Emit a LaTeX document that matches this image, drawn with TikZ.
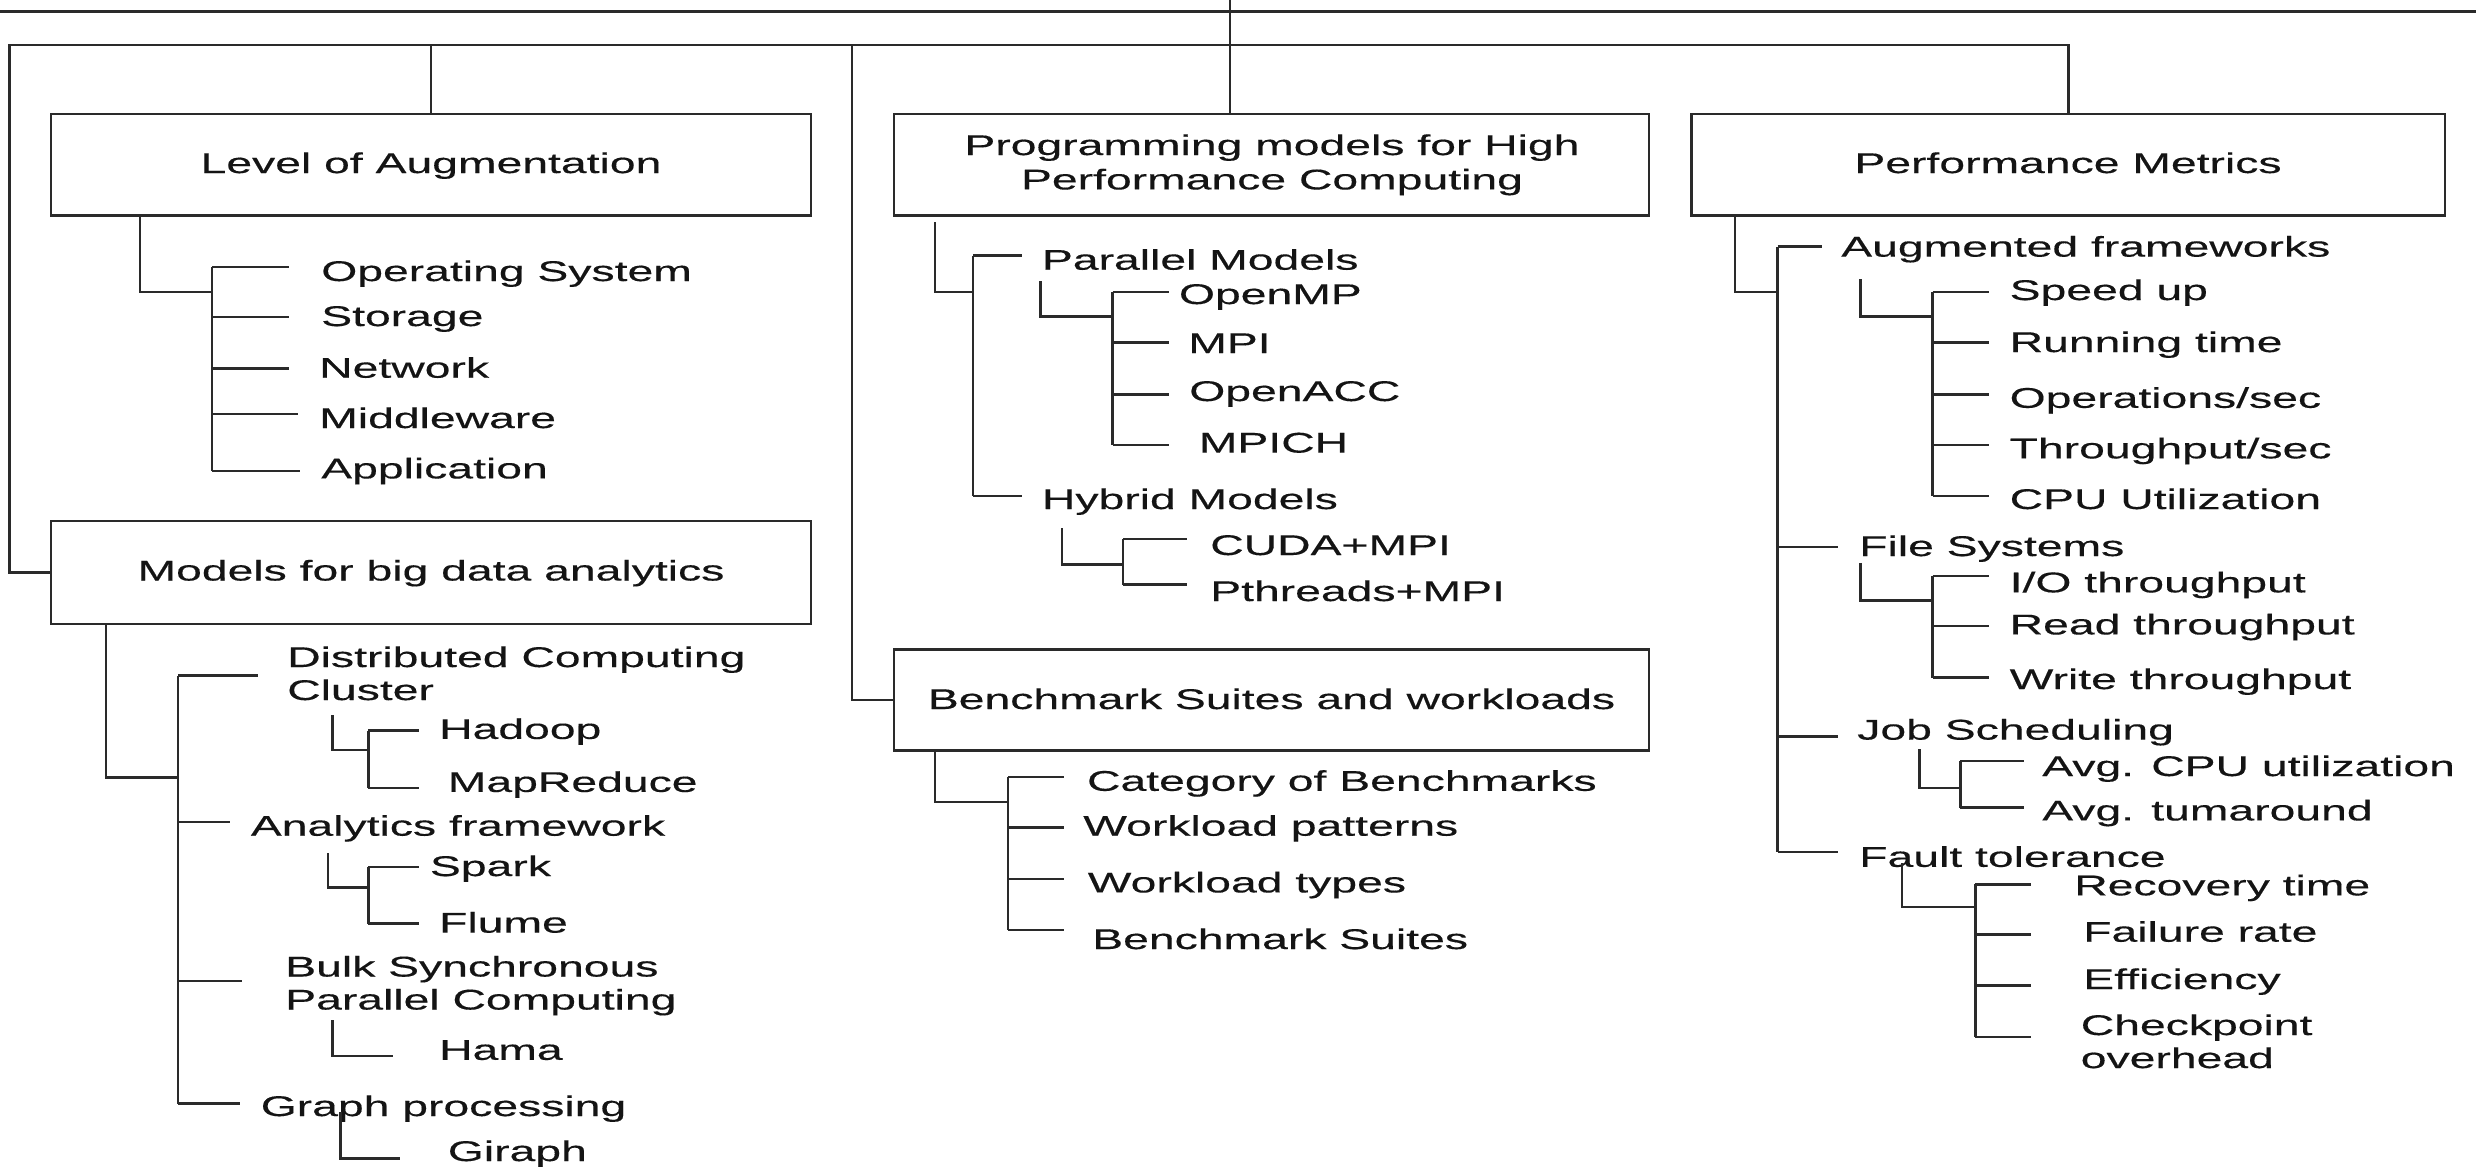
\documentclass[tikz,border=0pt]{standalone}
\usepackage{fontspec}
\setmainfont{Liberation Sans}[FakeStretch=1.625, FakeBold=0.35]
\definecolor{ink}{HTML}{141414}
\definecolor{wire}{HTML}{2A2A2A}
\begin{document}
\begin{tikzpicture}[
  x=0.5pt, y=-0.5pt,
  font=\fontsize{14.25}{16.5}\selectfont,
  color=wire, line width=1.25pt,
  box/.style={draw=wire, line width=1.25pt, inner sep=0pt, minimum width=#1},
  box/.default=380pt,
  ttl/.style={anchor=base, inner sep=0pt, text=ink},
  lbl/.style={anchor=base west, inner sep=0pt, text=ink},
  tick/.style={shorten >=#1},
]
\useasboundingbox (0,0) rectangle (2476,1173);

% ---------- category boxes ----------
\node[box=380pt,   minimum height=50.75pt] (loa)   at (431,164.75)   {};
\node[box=380pt,   minimum height=51.4pt]  (mbd)   at (431,572.4)    {};
\node[box=377.5pt, minimum height=50.75pt] (prog)  at (1271.5,164.75) {};
\node[box=377.5pt, minimum height=50.5pt]  (bench) at (1271.5,700)   {};
\node[box=376.75pt,minimum height=50.75pt] (perf)  at (2068.25,164.75) {};

\node[ttl] (loa-t)   at (431,173)    {Level of Augmentation};
\node[ttl] (mbd-t)   at (431,580.5)  {Models for big data analytics};
\node[ttl] (prog-t)  at (1272,155)   {\begin{tabular}[t]{@{}c@{}}Programming models for High\\[0.7pt]Performance Computing\end{tabular}};
\node[ttl] (bench-t) at (1271.5,709) {Benchmark Suites and workloads};
\node[ttl] (perf-t)  at (2068,173)   {Performance Metrics};

% ---------- top bus ----------
\coordinate (topL) at (0,11.5);
\coordinate (topR) at (2476,11.5);
\coordinate (root) at (1230,0);
\coordinate (busL) at (9.5,45);
\coordinate (busB) at (852,45);
\draw (topL) -- (topR);
\draw (root) -- (root |- prog.north);
\draw (mbd.west) -| (busL) -- (busL -| perf.north) -- (perf.north);
\draw (loa.north) -- (loa.north |- busL);
\draw (busB) |- (bench.west);

% ---------- Level of Augmentation ----------
\node[lbl] (os)  at (320,281)   {Operating System};
\node[lbl] (sto) at (320,326)   {Storage};
\node[lbl] (net) at (318,377.7) {Network};
\node[lbl] (mid) at (318,428)   {Middleware};
\node[lbl] (app) at (320,478.4) {Application};
\coordinate (loa-j) at (212,292);
\coordinate (loa-1) at (212,267);
\coordinate (loa-2) at (212,317);
\coordinate (loa-3) at (212,368.5);
\coordinate (loa-4) at (212,414);
\coordinate (loa-5) at (212,471);
\draw ([xshift=45pt]loa.south west) |- (loa-j);
\draw (loa-1) -- (loa-5);
\draw[tick=15.5pt] (loa-1) -- (loa-1 -| os.west);
\draw[tick=15.5pt] (loa-2) -- (loa-2 -| sto.west);
\draw[tick=14.5pt] (loa-3) -- (loa-3 -| net.west);
\draw[tick=10pt]   (loa-4) -- (loa-4 -| mid.west);
\draw[tick=10pt]   (loa-5) -- (loa-5 -| app.west);

% ---------- Models for big data analytics ----------
\node[lbl] (dcc) at (286,667)    {\begin{tabular}[t]{@{}l@{}}Distributed Computing\\Cluster\end{tabular}};
\node[lbl] (ana) at (249.6,835.7) {Analytics framework};
\node[lbl] (bsp) at (284,976.5)  {\begin{tabular}[t]{@{}l@{}}Bulk Synchronous\\Parallel Computing\end{tabular}};
\node[lbl] (gp)  at (259.5,1116) {Graph processing};
\coordinate (mbd-j) at (178,777.3);
\coordinate (mbd-1) at (178,675.7);
\coordinate (mbd-2) at (178,821.9);
\coordinate (mbd-3) at (178,980.8);
\coordinate (mbd-4) at (178,1103.6);
\draw ([xshift=28pt]mbd.south west) |- (mbd-j);
\draw (mbd-1) -- (mbd-4);
\draw[tick=14.15pt] (mbd-1) -- (mbd-1 -| dcc.west);
\draw[tick=9.8pt]   (mbd-2) -- (mbd-2 -| ana.west);
\draw[tick=21pt]    (mbd-3) -- (mbd-3 -| bsp.west);
\draw[tick=10pt]    (mbd-4) -- (mbd-4 -| gp.west);

\node[lbl] (hadoop) at (437.9,738.9) {Hadoop};
\node[lbl] (mapr)   at (446.6,791.9) {MapReduce};
\coordinate (dcc-s) at (332.6,715);
\coordinate (dcc-j) at (368.4,750);
\coordinate (dcc-1) at (368.4,730.5);
\coordinate (dcc-2) at (368.4,788.2);
\draw (dcc-s) |- (dcc-j);
\draw (dcc-1) -- (dcc-2);
\draw[tick=9.7pt]   (dcc-1) -- (dcc-1 -| hadoop.west);
\draw[tick=14.05pt] (dcc-2) -- (dcc-2 -| mapr.west);

\node[lbl] (spark) at (428.7,876)   {Spark};
\node[lbl] (flume) at (437.9,932.6) {Flume};
\coordinate (ana-s) at (327.9,853);
\coordinate (ana-j) at (368.4,887.6);
\coordinate (ana-1) at (368.4,866.8);
\coordinate (ana-2) at (368.4,923.5);
\draw (ana-s) |- (ana-j);
\draw (ana-1) -- (ana-2);
\draw[tick=5.1pt] (ana-1) -- (ana-1 -| spark.west);
\draw[tick=9.7pt] (ana-2) -- (ana-2 -| flume.west);

\node[lbl] (hama) at (437.9,1059.8) {Hama};
\coordinate (bsp-s) at (332.6,1020);
\coordinate (bsp-c) at (332.6,1056);
\draw[tick=22.5pt] (bsp-s) -- (bsp-c) -- (bsp-c -| hama.west);

\node[lbl] (giraph) at (446.6,1161) {Giraph};
\coordinate (gp-s) at (340.6,1111.7);
\coordinate (gp-c) at (340.6,1158.5);
\draw[tick=23.3pt] (gp-s) -- (gp-c) -- (gp-c -| giraph.west);

% ---------- Programming models ----------
\node[lbl] (par) at (1040.7,269.7) {Parallel Models};
\node[lbl] (hyb) at (1040.7,509)   {Hybrid Models};
\coordinate (prog-j) at (973,292);
\coordinate (prog-1) at (973,255.5);
\coordinate (prog-2) at (973,496);
\draw[shorten <=2.75pt] ([xshift=21pt]prog.south west) |- (prog-j);
\draw (prog-1) -- (prog-2);
\draw[tick=9.55pt] (prog-1) -- (prog-1 -| par.west);
\draw[tick=9.55pt] (prog-2) -- (prog-2 -| hyb.west);

\node[lbl] (omp)   at (1177.7,304)   {OpenMP};
\node[lbl] (mpi)   at (1187,353)     {MPI};
\node[lbl] (oacc)  at (1188,401)     {OpenACC};
\node[lbl] (mpich) at (1197.6,452.6) {MPICH};
\coordinate (par-s) at (1040.7,281);
\coordinate (par-j) at (1112.7,316.7);
\coordinate (par-1) at (1112.7,291.8);
\coordinate (par-2) at (1112.7,342.7);
\coordinate (par-3) at (1112.7,394.4);
\coordinate (par-4) at (1112.7,445);
\draw (par-s) |- (par-j);
\draw (par-1) -- (par-4);
\draw[tick=4.35pt] (par-1) -- (par-1 -| omp.west);
\draw[tick=9pt]    (par-2) -- (par-2 -| mpi.west);
\draw[tick=9.5pt]  (par-3) -- (par-3 -| oacc.west);
\draw[tick=14.3pt] (par-4) -- (par-4 -| mpich.west);

\node[lbl] (cuda) at (1209,555) {CUDA+MPI};
\node[lbl] (pth)  at (1209,601) {Pthreads+MPI};
\coordinate (hyb-s) at (1061.8,528);
\coordinate (hyb-j) at (1123,564.7);
\coordinate (hyb-1) at (1123,539);
\coordinate (hyb-2) at (1123,584.6);
\draw (hyb-s) |- (hyb-j);
\draw (hyb-1) -- (hyb-2);
\draw[tick=11pt] (hyb-1) -- (hyb-1 -| cuda.west);
\draw[tick=11pt] (hyb-2) -- (hyb-2 -| pth.west);

% ---------- Benchmark suites ----------
\node[lbl] (cat) at (1085.8,790.8) {Category of Benchmarks};
\node[lbl] (wlp) at (1082,835.7)   {Workload patterns};
\node[lbl] (wlt) at (1086.5,892.4) {Workload types};
\node[lbl] (bs)  at (1091,949)     {Benchmark Suites};
\coordinate (bench-j) at (1008,801.8);
\coordinate (bench-1) at (1008,777);
\coordinate (bench-2) at (1008,827.7);
\coordinate (bench-3) at (1008,879);
\coordinate (bench-4) at (1008,930);
\draw ([xshift=21pt]bench.south west) |- (bench-j);
\draw (bench-1) -- (bench-4);
\draw[tick=10.9pt]  (bench-1) -- (bench-1 -| cat.west);
\draw[tick=9pt]     (bench-2) -- (bench-2 -| wlp.west);
\draw[tick=11.25pt] (bench-3) -- (bench-3 -| wlt.west);
\draw[tick=13.5pt]  (bench-4) -- (bench-4 -| bs.west);

% ---------- Performance metrics ----------
\node[lbl] (aug) at (1840,256.6) {Augmented frameworks};
\node[lbl] (fs)  at (1858,556)   {File Systems};
\node[lbl] (js)  at (1856,739.6) {Job Scheduling};
\node[lbl] (ft)  at (1858,866.8) {Fault tolerance};
\coordinate (perf-j) at (1777.6,291.8);
\coordinate (perf-1) at (1777.6,246.7);
\coordinate (perf-2) at (1777.6,547);
\coordinate (perf-3) at (1777.6,736.5);
\coordinate (perf-4) at (1777.6,852);
\draw ([xshift=22.25pt]perf.south west) |- (perf-j);
\draw (perf-1) -- (perf-4);
\draw[tick=9.2pt] (perf-1) -- (perf-1 -| aug.west);
\draw[tick=10pt]  (perf-2) -- (perf-2 -| fs.west);
\draw[tick=9pt]   (perf-3) -- (perf-3 -| js.west);
\draw[tick=10pt]  (perf-4) -- (perf-4 -| ft.west);

\node[lbl] (spd) at (2008.4,300)   {Speed up};
\node[lbl] (run) at (2008.4,352)   {Running time};
\node[lbl] (ops) at (2008.4,407.8) {Operations/sec};
\node[lbl] (thr) at (2008.4,458.3) {Throughput/sec};
\node[lbl] (cpu) at (2008.4,509)   {CPU Utilization};
\coordinate (aug-s) at (1860.6,279);
\coordinate (aug-j) at (1932.6,316.7);
\coordinate (aug-1) at (1932.6,291.8);
\coordinate (aug-2) at (1932.6,342.7);
\coordinate (aug-3) at (1932.6,394.4);
\coordinate (aug-4) at (1932.6,445);
\coordinate (aug-5) at (1932.6,495.8);
\draw (aug-s) |- (aug-j);
\draw (aug-1) -- (aug-5);
\draw[tick=9.7pt] (aug-1) -- (aug-1 -| spd.west);
\draw[tick=9.7pt] (aug-2) -- (aug-2 -| run.west);
\draw[tick=9.7pt] (aug-3) -- (aug-3 -| ops.west);
\draw[tick=9.7pt] (aug-4) -- (aug-4 -| thr.west);
\draw[tick=9.7pt] (aug-5) -- (aug-5 -| cpu.west);

\node[lbl] (iot) at (2008.4,592.3) {I/O throughput};
\node[lbl] (rdt) at (2008.4,634.4) {Read throughput};
\node[lbl] (wrt) at (2008.4,689)   {Write throughput};
\coordinate (fs-s) at (1860.6,562.8);
\coordinate (fs-j) at (1932.6,600.7);
\coordinate (fs-1) at (1932.6,575.8);
\coordinate (fs-2) at (1932.6,626);
\coordinate (fs-3) at (1932.6,677.6);
\draw (fs-s) |- (fs-j);
\draw (fs-1) -- (fs-3);
\draw[tick=9.7pt] (fs-1) -- (fs-1 -| iot.west);
\draw[tick=9.7pt] (fs-2) -- (fs-2 -| rdt.west);
\draw[tick=9.7pt] (fs-3) -- (fs-3 -| wrt.west);

\node[lbl] (acpu) at (2041,776)   {Avg. CPU utilization};
\node[lbl] (atat) at (2041,820.4) {Avg. tumaround};
\coordinate (js-s) at (1919.4,749);
\coordinate (js-j) at (1960.3,788.2);
\coordinate (js-1) at (1960.3,760.8);
\coordinate (js-2) at (1960.3,807.6);
\draw (js-s) |- (js-j);
\draw (js-1) -- (js-2);
\draw[tick=8.7pt] (js-1) -- (js-1 -| acpu.west);
\draw[tick=8.7pt] (js-2) -- (js-2 -| atat.west);

\node[lbl] (rec) at (2073,895.3) {Recovery time};
\node[lbl] (fr)  at (2082,941.7) {Failure rate};
\node[lbl] (eff) at (2082,989)   {Efficiency};
\node[lbl] (chk) at (2079.5,1035) {\begin{tabular}[t]{@{}l@{}}Checkpoint\\overhead\end{tabular}};
\coordinate (ft-s) at (1902,863);
\coordinate (ft-j) at (1975.3,907);
\coordinate (ft-1) at (1975.3,884.4);
\coordinate (ft-2) at (1975.3,934.4);
\coordinate (ft-3) at (1975.3,985.6);
\coordinate (ft-4) at (1975.3,1036.8);
\draw (ft-s) |- (ft-j);
\draw (ft-1) -- (ft-4);
\draw[tick=21pt]    (ft-1) -- (ft-1 -| rec.west);
\draw[tick=25.5pt]  (ft-2) -- (ft-2 -| fr.west);
\draw[tick=25.5pt]  (ft-3) -- (ft-3 -| eff.west);
\draw[tick=24.25pt] (ft-4) -- (ft-4 -| chk.west);
\end{tikzpicture}
\end{document}
